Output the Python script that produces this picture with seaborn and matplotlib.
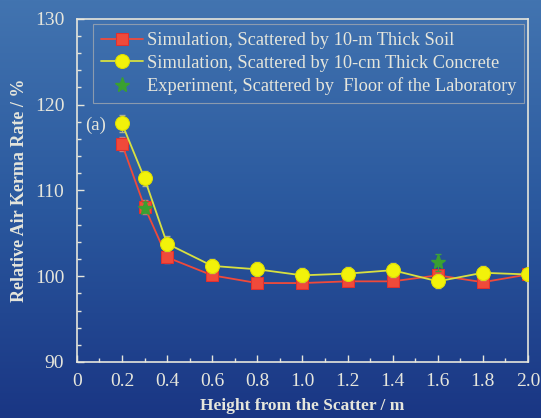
import numpy as np
import pandas as pd
import matplotlib
matplotlib.use("Agg")
import matplotlib.pyplot as plt
from matplotlib.colors import LinearSegmentedColormap
from matplotlib.ticker import MultipleLocator
import seaborn as sns

sns.set_theme(style="ticks")
plt.rcParams["font.family"] = ["Liberation Serif", "DejaVu Serif"]

height = [0.2, 0.3, 0.4, 0.6, 0.8, 1.0, 1.2, 1.4, 1.6, 1.8, 2.0]
soil = [115.4, 108.1, 102.2, 100.1, 99.2, 99.2, 99.4, 99.4, 100.1, 99.3, 100.2]
soil_err = [0.8, 0.8, 0.7, 0.6, 0.6, 0.6, 0.6, 0.6, 0.6, 0.6, 0.6]
concrete = [117.8, 111.4, 103.8, 101.2, 100.8, 100.1, 100.3, 100.7, 99.4, 100.4, 100.2]
concrete_err = [1.0, 0.9, 0.9, 0.8, 0.8, 0.8, 0.8, 0.8, 0.8, 0.8, 0.8]
exp_height = [0.3, 1.6]
experiment = [108.0, 101.6]
experiment_err = [0.6, 1.0]

labels = [
    "Simulation, Scattered by 10-m Thick Soil",
    "Simulation, Scattered by 10-cm Thick Concrete",
    "Experiment, Scattered by  Floor of the Laboratory",
]

df = pd.DataFrame({"height": height, "soil": soil, "concrete": concrete})

fg = "#e6e6dc"
red = "#f04a3a"
yellow = "#f2f20a"
green = "#3aa030"

fig = plt.figure(figsize=(5.41, 4.18), dpi=100)
# scanned-paper blue background
bg = fig.add_axes([0, 0, 1, 1], zorder=-10)
cmap = LinearSegmentedColormap.from_list("bg", ["#4274b0", "#2a589e", "#1a3684"])
grad = np.linspace(0, 1, 256).reshape(-1, 1)
bg.imshow(grad, aspect="auto", cmap=cmap, extent=[0, 1, 0, 1])
bg.axis("off")

ax = fig.add_axes([0.142, 0.134, 0.834, 0.821])
ax.patch.set_alpha(0)

ax.errorbar(df["height"], df["soil"], yerr=soil_err, fmt="none",
            ecolor="#c08080", elinewidth=0.8, capsize=2.5, zorder=2)
sns.lineplot(data=df, x="height", y="soil", ax=ax, color=red, lw=1.3,
             marker="s", markersize=9, markeredgecolor="#e03030",
             label=labels[0], zorder=3)
ax.errorbar(df["height"], df["concrete"], yerr=concrete_err, fmt="none",
            ecolor="#b0b090", elinewidth=0.8, capsize=2.5, zorder=4)
sns.lineplot(data=df, x="height", y="concrete", ax=ax, color="#d8e040", lw=1.3,
             marker="o", markersize=10, markerfacecolor=yellow,
             markeredgecolor="#e0e000", label=labels[1], zorder=5)
ax.errorbar(exp_height, experiment, yerr=experiment_err, fmt="none",
            ecolor="#40a040", elinewidth=0.8, capsize=2.5, zorder=6)
ax.plot(exp_height, experiment, ls="none", marker="*", markersize=11,
        color=green, markeredgecolor=green, label=labels[2], zorder=7)

ax.set_xlim(0, 2.0)
ax.set_ylim(90, 130)
ax.xaxis.set_major_locator(MultipleLocator(0.2))
ax.xaxis.set_minor_locator(MultipleLocator(0.1))
ax.yaxis.set_major_locator(MultipleLocator(10))
ax.yaxis.set_minor_locator(MultipleLocator(2))
ax.set_xticks(np.arange(0, 2.01, 0.2))
ax.set_xticklabels(["0"] + [f"{v:.1f}" for v in np.arange(0.2, 2.01, 0.2)])

ax.tick_params(which="both", direction="in", colors=fg, labelcolor=fg,
               labelsize=14, top=False, right=False)
ax.tick_params(which="major", length=5, width=1)
ax.tick_params(which="minor", length=3, width=1)
ax.tick_params(axis="x", pad=8)
ax.tick_params(axis="y", pad=9)
for s in ax.spines.values():
    s.set_color(fg)
    s.set_linewidth(1.2)

ax.set_xlabel("Height from the Scatter / m", color=fg, fontsize=12.5,
              fontweight="bold", labelpad=6)
ax.set_ylabel("Relative Air Kerma Rate / %", color=fg, fontsize=13,
              fontweight="bold", labelpad=5)

ax.text(0.035, 117.0, "(a)", color=fg, fontsize=13.5)

leg = ax.legend(loc="upper left", bbox_to_anchor=(0.035, 0.985), fontsize=13.2,
                frameon=True, fancybox=False, handlelength=2.3,
                handletextpad=0.2, borderpad=0.45, labelspacing=0.3,
                borderaxespad=0)
leg.get_frame().set_facecolor("none")
leg.get_frame().set_edgecolor("#a0a8b0")
leg.get_frame().set_linewidth(0.8)
for t in leg.get_texts():
    t.set_color(fg)

fig.savefig("out.png", dpi=100)
